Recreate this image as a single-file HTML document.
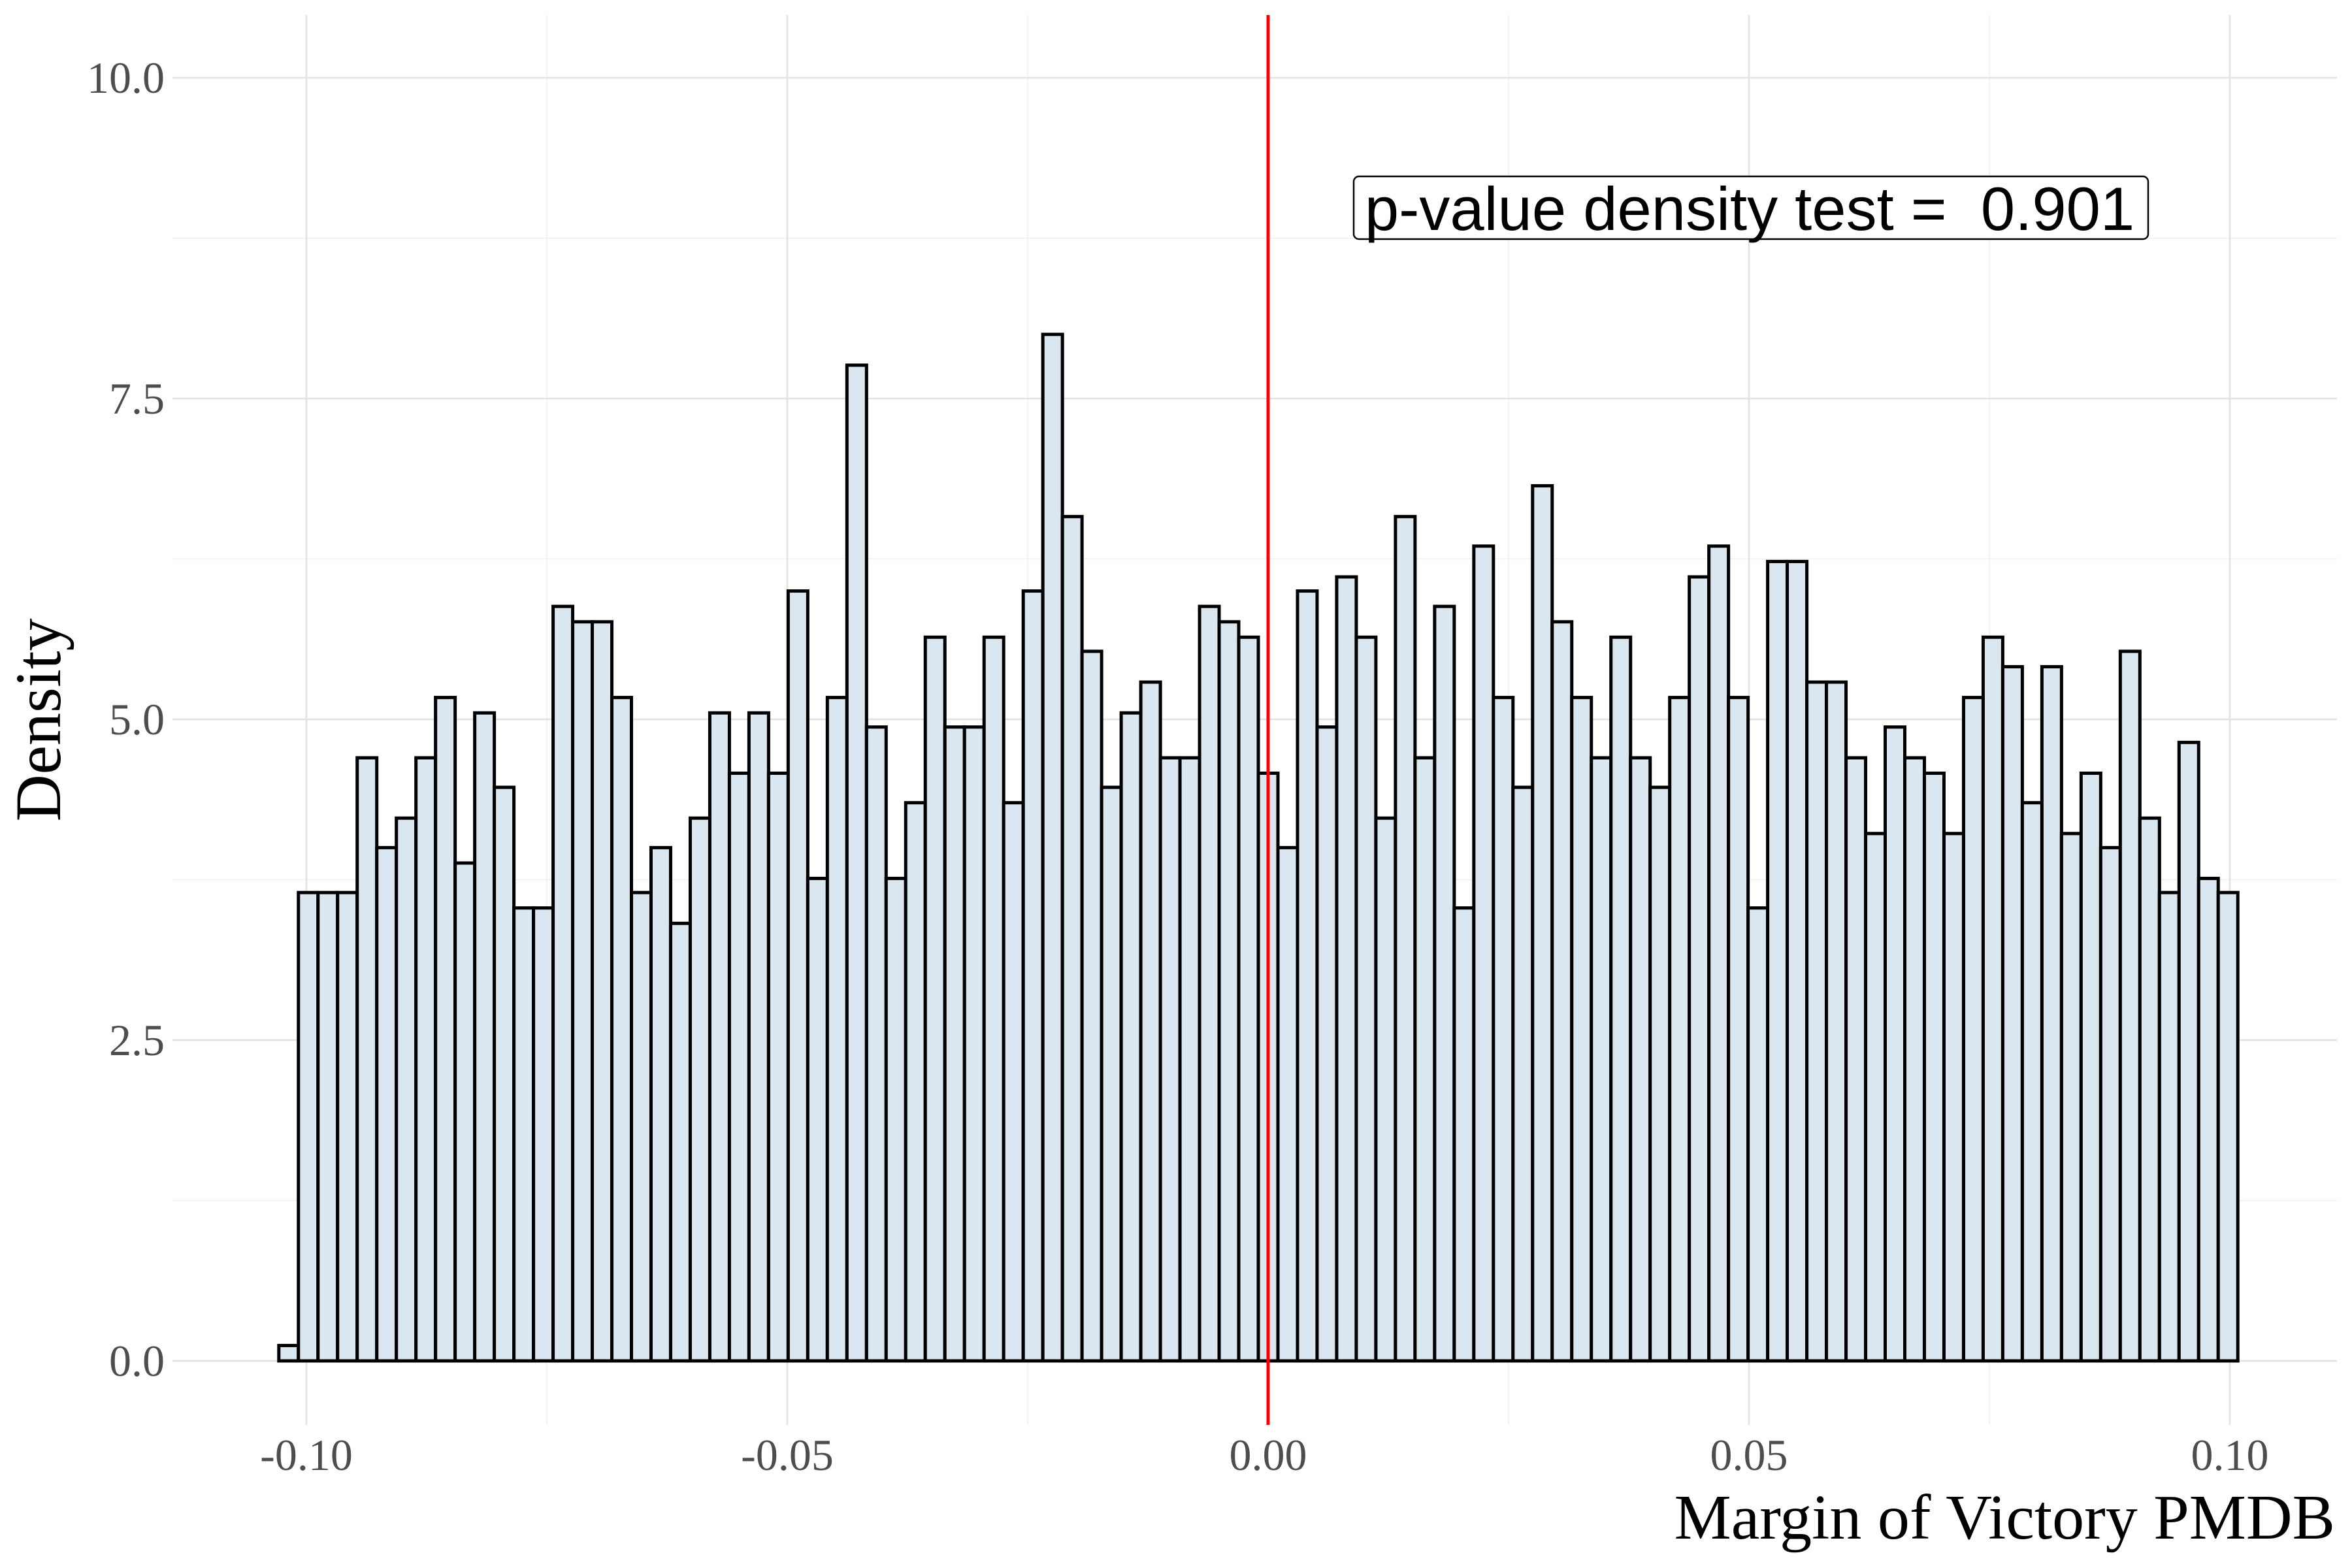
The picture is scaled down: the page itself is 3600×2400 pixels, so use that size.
<!DOCTYPE html>
<html><head><meta charset="utf-8"><style>
html,body{margin:0;padding:0;background:#fff;}
svg{display:block;}
</style></head><body>
<svg id="chart" width="3600" height="2400" viewBox="0 0 3600 2400" xmlns="http://www.w3.org/2000/svg">
<rect width="3600" height="2400" fill="#fff"/>
<g id="grid"></g>
<g id="bars"></g>
<line id="cutoff" stroke="#ff0000" stroke-width="5"/>
<g id="ylabels"></g>
<g id="xlabels"></g>
<text transform="translate(92,1102) rotate(-90)" text-anchor="middle" font-family="Liberation Serif, serif" font-size="100" fill="#000">Density</text>
<text x="3574" y="2355" text-anchor="end" font-family="Liberation Serif, serif" font-size="98" fill="#000">Margin of Victory PMDB</text>
<g>
<rect x="2072" y="270" width="1216" height="96" rx="8" ry="8" fill="#fff" stroke="#000" stroke-width="2.5"/>
<text x="2678" y="352" text-anchor="middle" font-family="Liberation Sans, sans-serif" font-size="94" fill="#000" xml:space="preserve">p-value density test =  0.901</text>
</g>
</svg>
<script>
const densities = [0.12,3.65,3.65,3.65,4.7,4.0,4.23,4.7,5.17,3.88,
5.05,4.47,3.53,3.53,5.88,5.76,5.76,5.17,3.65,4.0,
3.41,4.23,5.05,4.58,5.05,4.58,6.0,3.76,5.17,7.76,
4.94,3.76,4.35,5.64,4.94,4.94,5.64,4.35,6.0,8.0,
6.58,5.53,4.47,5.05,5.29,4.7,4.7,5.88,5.76,5.64,
4.58,4.0,6.0,4.94,6.11,5.64,4.23,6.58,4.7,5.88,
3.53,6.35,5.17,4.47,6.82,5.76,5.17,4.7,5.64,4.7,
4.47,5.17,6.11,6.35,5.17,3.53,6.23,6.23,5.29,5.29,
4.7,4.11,4.94,4.7,4.58,4.11,5.17,5.64,5.41,4.35,
5.41,4.11,4.58,4.0,5.53,4.23,3.65,4.82,3.76,3.65];
const binWidth = 0.002037;
const centerIndex = 50;
const yTicks = [0, 2.5, 5, 7.5, 10];
const yTickLabels = ["0.0","2.5","5.0","7.5","10.0"];
const yMinor = [1.25, 3.75, 6.25, 8.75];
const xTicks = [-0.10, -0.05, 0, 0.05, 0.10];
const xTickLabels = ["-0.10","-0.05","0.00","0.05","0.10"];
const xMinor = [-0.075, -0.025, 0.025, 0.075];
const cutoff = 0;

const NS = "http://www.w3.org/2000/svg";
const X0 = 1941, XS = 14720, Y0 = 2083, YS = 196.4;
const xs = v => X0 + v * XS;
const ys = v => Y0 - v * YS;
const panel = {l: 264, r: 3577, t: 23, b: 2181};

function mk(tag, attrs, parent) {
  const e = document.createElementNS(NS, tag);
  for (const k in attrs) e.setAttribute(k, attrs[k]);
  parent.appendChild(e);
  return e;
}
const grid = document.getElementById('grid');
yMinor.forEach(v => {
  const l = mk('line', {x1: panel.l, x2: panel.r, y1: ys(v), y2: ys(v), stroke: '#f0f0f0', 'stroke-width': 1.6}, grid);
  
  
});
xMinor.forEach(v => {
  const l = mk('line', {x1: xs(v), x2: xs(v), y1: panel.t, y2: panel.b, stroke: '#f0f0f0', 'stroke-width': 1.6}, grid);
  
  
});
yTicks.forEach(v => {
  const l = mk('line', {x1: panel.l, x2: panel.r, y1: ys(v), y2: ys(v), stroke: '#e2e2e2', 'stroke-width': 2.6}, grid);
  
  
});
xTicks.forEach(v => {
  const l = mk('line', {x1: xs(v), x2: xs(v), y1: panel.t, y2: panel.b, stroke: '#e2e2e2', 'stroke-width': 2.6}, grid);
  
  
});

const bars = document.getElementById('bars');
densities.forEach((d, i) => {
  const left = (i - centerIndex - 0.5) * binWidth;
  const x1 = xs(left), x2 = xs(left + binWidth);
  const r = mk('rect', {x: x1, y: ys(d), width: x2 - x1, height: ys(0) - ys(d), fill: '#dae6f0', stroke: '#000', 'stroke-width': 5}, bars);
  
  
});

const cl = document.getElementById('cutoff');
cl.setAttribute('x1', xs(cutoff)); cl.setAttribute('x2', xs(cutoff));
cl.setAttribute('y1', panel.t); cl.setAttribute('y2', panel.b);

const yl = document.getElementById('ylabels');
yTicks.forEach((v, i) => {
  const t = mk('text', {x: 252, y: ys(v) + 23, 'text-anchor': 'end', 'font-family': 'Liberation Serif, serif', 'font-size': 68, fill: '#4d4d4d'}, yl);
  t.textContent = yTickLabels[i];
  
  
});
const xl = document.getElementById('xlabels');
xTicks.forEach((v, i) => {
  const t = mk('text', {x: xs(v), y: 2250, 'text-anchor': 'middle', 'font-family': 'Liberation Serif, serif', 'font-size': 68, fill: '#4d4d4d'}, xl);
  t.textContent = xTickLabels[i];
  
  
});
</script>
</body></html>
